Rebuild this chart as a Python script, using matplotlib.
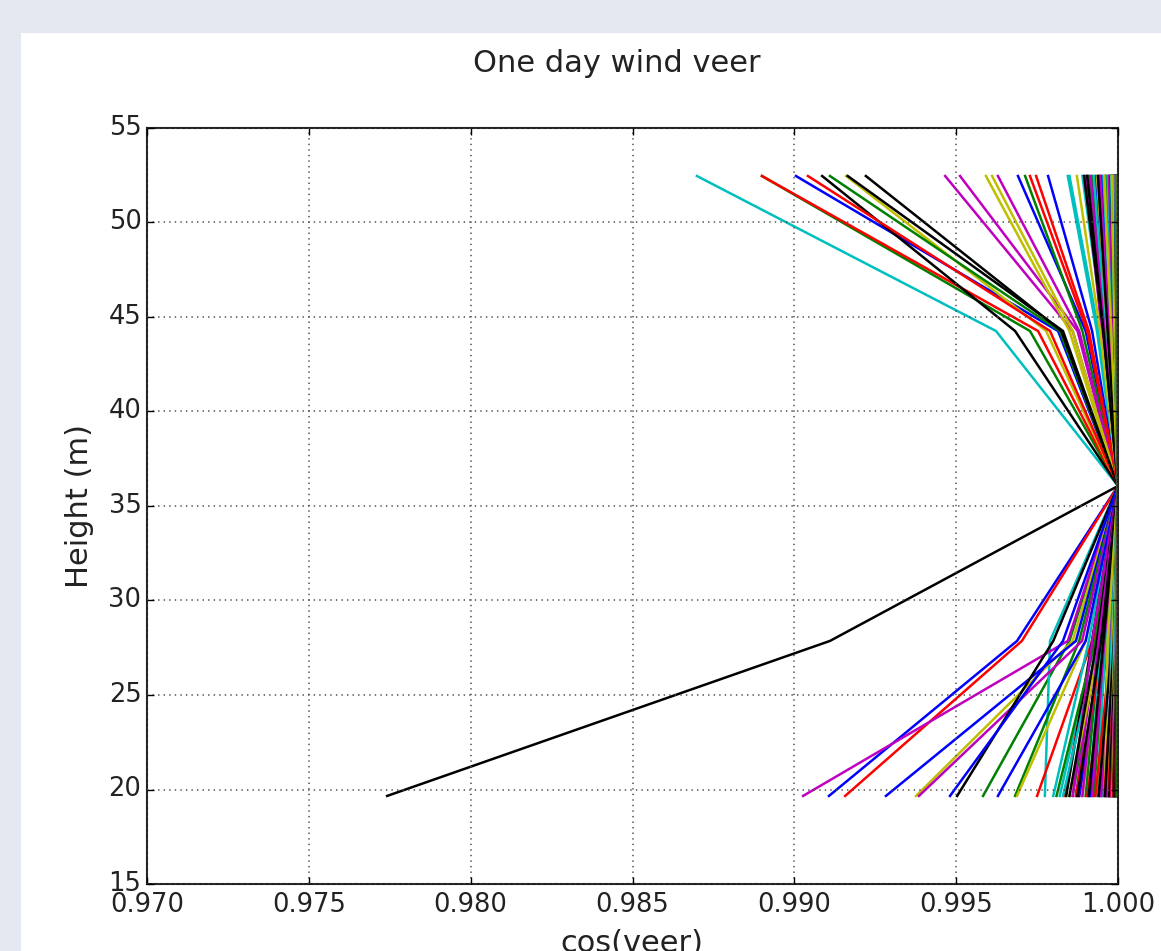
import matplotlib
matplotlib.use("Agg")
import matplotlib.pyplot as plt
from matplotlib.patches import Rectangle
from cycler import cycler

# Measurement heights (m)
heights = [19.66, 27.86, 36.06, 44.26, 52.46]

# cos(veer) at each height, one entry per profile (reference height 36 m -> 1.0)
# colours follow the old b,g,r,c,m,y,k cycle, so 7 profiles per row
cos_52 = [
    0.99005, 0.98900, 0.98900, 0.98699, 0.99466, 0.99160, 0.99086,
    0.99691, 0.99110, 0.99042, 0.99845, 0.99512, 0.99592, 0.99165,
    0.99784, 0.99713, 0.99728, 0.99850, 0.99629, 0.99611, 0.99221,
    0.99905, 0.99920, 0.99747, 0.99890, 0.99900, 0.99873, 0.99895,
    0.99930, 0.99910, 0.99945, 0.99925, 0.99915, 0.99935, 0.99905,
    0.99950, 0.99940, 0.99960, 0.99955, 0.99945, 0.99965, 0.99938,
    0.99970, 0.99962, 0.99975, 0.99968, 0.99972, 0.99958, 0.99978,
    0.99982, 0.99980, 0.99985, 0.99979, 0.99984, 0.99981, 0.99986,
    0.99988, 0.99987, 0.99990, 0.99986, 0.99989, 0.99985, 0.99991,
    0.99992, 0.99993, 0.99994, 0.99992, 0.99993, 0.99994, 0.99995,
    0.99995, 0.99996, 0.99996, 0.99997, 0.99995, 0.99996, 0.99997,
    0.99997, 0.99998, 0.99997, 0.99998, 0.99998, 0.99997, 0.99998,
    0.99998, 0.99999, 0.99998, 0.99999, 0.99999, 0.99998, 0.99999,
    0.99999, 0.99999, 1.00000, 0.99999, 1.00000, 0.99999, 1.00000,
    1.00000, 1.00000, 1.00000, 1.00000, 1.00000, 1.00000, 1.00000,
]
cos_44 = [
    0.99815, 0.99728, 0.99753, 0.99623, 0.99860, 0.99778, 0.99682,
    0.99900, 0.99820, 0.99790, 0.99935, 0.99875, 0.99850, 0.99830,
    0.99920, 0.99890, 0.99905, 0.99940, 0.99880, 0.99860, 0.99825,
    0.99950, 0.99960, 0.99910, 0.99955, 0.99950, 0.99945, 0.99955,
    0.99965, 0.99960, 0.99970, 0.99962, 0.99958, 0.99968, 0.99955,
    0.99975, 0.99970, 0.99980, 0.99978, 0.99972, 0.99982, 0.99968,
    0.99985, 0.99980, 0.99988, 0.99984, 0.99986, 0.99979, 0.99989,
    0.99991, 0.99990, 0.99993, 0.99989, 0.99992, 0.99990, 0.99993,
    0.99994, 0.99993, 0.99995, 0.99993, 0.99994, 0.99992, 0.99995,
    0.99996, 0.99996, 0.99997, 0.99996, 0.99997, 0.99996, 0.99997,
    0.99998, 0.99997, 0.99998, 0.99998, 0.99997, 0.99998, 0.99998,
    0.99998, 0.99999, 0.99998, 0.99999, 0.99999, 0.99998, 0.99999,
    0.99999, 0.99999, 0.99999, 1.00000, 0.99999, 0.99999, 1.00000,
    1.00000, 0.99999, 1.00000, 1.00000, 1.00000, 1.00000, 1.00000,
    1.00000, 1.00000, 1.00000, 1.00000, 1.00000, 1.00000, 1.00000,
]
cos_36 = [1.0] * len(cos_52)
cos_27 = [
    0.99688, 0.99850, 0.99703, 0.99790, 0.99845, 0.99860, 0.99110,
    0.99870, 0.99880, 0.99920, 0.99930, 0.99889, 0.99900, 0.99800,
    0.99830, 0.99940, 0.99925, 0.99910, 0.99935, 0.99945, 0.99920,
    0.99900, 0.99930, 0.99950, 0.99940, 0.99920, 0.99950, 0.99935,
    0.99955, 0.99945, 0.99960, 0.99950, 0.99940, 0.99965, 0.99948,
    0.99965, 0.99960, 0.99970, 0.99962, 0.99958, 0.99975, 0.99955,
    0.99975, 0.99970, 0.99980, 0.99972, 0.99978, 0.99968, 0.99982,
    0.99985, 0.99983, 0.99988, 0.99980, 0.99986, 0.99984, 0.99987,
    0.99990, 0.99989, 0.99992, 0.99988, 0.99991, 0.99990, 0.99993,
    0.99994, 0.99993, 0.99995, 0.99992, 0.99994, 0.99995, 0.99996,
    0.99996, 0.99995, 0.99997, 0.99996, 0.99997, 0.99996, 0.99997,
    0.99997, 0.99998, 0.99998, 0.99997, 0.99998, 0.99998, 0.99998,
    0.99998, 0.99999, 0.99999, 0.99998, 0.99999, 0.99999, 0.99999,
    0.99999, 1.00000, 0.99999, 1.00000, 0.99999, 1.00000, 1.00000,
    1.00000, 1.00000, 1.00000, 1.00000, 1.00000, 1.00000, 1.00000,
]
cos_19 = [
    0.99107, 0.99583, 0.99157, 0.99774, 0.99027, 0.99376, 0.97742,
    0.99283, 0.99682, 0.99750, 0.99820, 0.99385, 0.99688, 0.99503,
    0.99481, 0.99860, 0.99835, 0.99800, 0.99870, 0.99850, 0.99840,
    0.99629, 0.99810, 0.99880, 0.99830, 0.99860, 0.99890, 0.99850,
    0.99880, 0.99900, 0.99870, 0.99910, 0.99890, 0.99920, 0.99875,
    0.99915, 0.99925, 0.99905, 0.99935, 0.99920, 0.99940, 0.99910,
    0.99945, 0.99950, 0.99930, 0.99955, 0.99948, 0.99960, 0.99940,
    0.99962, 0.99965, 0.99958, 0.99968, 0.99964, 0.99970, 0.99960,
    0.99972, 0.99975, 0.99970, 0.99978, 0.99974, 0.99976, 0.99973,
    0.99980, 0.99982, 0.99979, 0.99984, 0.99981, 0.99983, 0.99985,
    0.99987, 0.99988, 0.99986, 0.99990, 0.99989, 0.99991, 0.99988,
    0.99992, 0.99993, 0.99991, 0.99994, 0.99993, 0.99995, 0.99992,
    0.99996, 0.99996, 0.99995, 0.99997, 0.99996, 0.99997, 0.99996,
    0.99998, 0.99998, 0.99999, 0.99998, 0.99999, 0.99998, 0.99999,
    1.00000, 0.99999, 1.00000, 1.00000, 1.00000, 1.00000, 1.00000,
]

xticks = [0.970, 0.975, 0.980, 0.985, 0.990, 0.995, 1.000]
yticks = [15, 20, 25, 30, 35, 40, 45, 50, 55]

# old matplotlib look
plt.style.use("classic")
plt.rcParams["axes.prop_cycle"] = cycler(color=list("bgrcmyk"))

fig = plt.figure(figsize=(11.61, 9.51), dpi=100, facecolor="#e3e7f0")
# white figure area of the screenshot
fig.patches.append(Rectangle((21 / 1161, 0), 1, 1 - 33 / 951,
                             transform=fig.transFigure, facecolor="white",
                             edgecolor="none", zorder=-5))

ax = fig.add_axes([147 / 1161, 1 - 884 / 951, 971 / 1161, 756 / 951])
ax.set_zorder(2)

for a, b, c, d, e in zip(cos_19, cos_27, cos_36, cos_44, cos_52):
    ax.plot([a, b, c, d, e], heights, linewidth=1.8)

ax.set_xlim(0.970, 1.000)
ax.set_ylim(15, 55)
ax.set_xticks(xticks)
ax.set_yticks(yticks)
ax.set_xticklabels([f"{t:.3f}" for t in xticks])
ax.tick_params(labelsize=18.5, labelcolor="#222222", direction="in",
               length=5, width=1)
ax.tick_params(axis="x", pad=6)
ax.grid(True, color="0.3", linestyle=":", linewidth=1.1)
for s in ax.spines.values():
    s.set_linewidth(1.5)
    s.set_color("#222222")

fig.text(617 / 1161, 1 - 64 / 951, "One day wind veer", fontsize=22,
         ha="center", va="center", color="#222222")
fig.text(80 / 1161, 1 - 506 / 951, "Height (m)", fontsize=22, rotation=90,
         ha="center", va="center", color="#222222")
fig.text(632 / 1161, 1 - 929 / 951, "cos(veer)", fontsize=22,
         ha="center", va="top", color="#222222")

plt.savefig("out.png", dpi=100, facecolor=fig.get_facecolor())
